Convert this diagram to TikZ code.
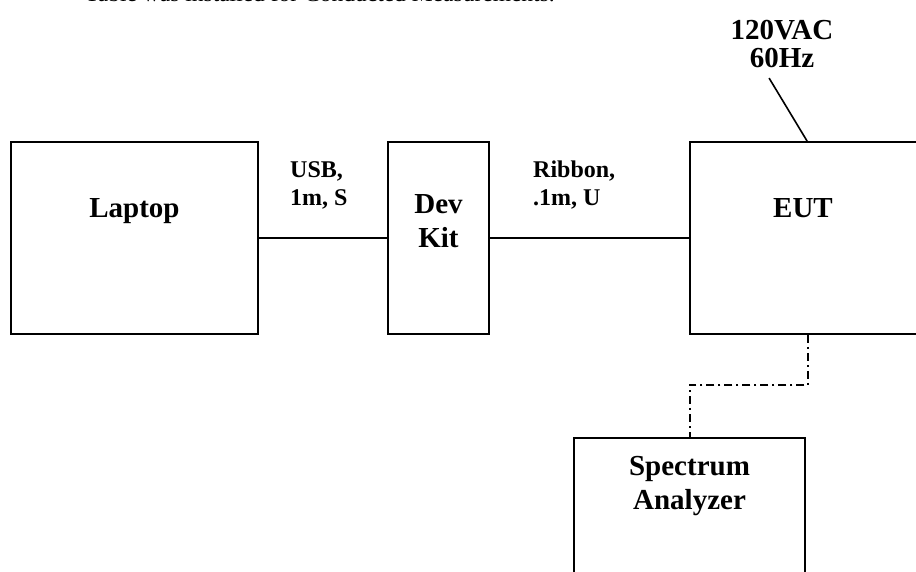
\documentclass[tikz,border=0pt]{standalone}
\usepackage{fontspec}
\setmainfont{Liberation Serif}
\usetikzlibrary{calc}
\begin{document}
\begin{tikzpicture}[
  x=1pt,y=-1pt,
  box/.style={draw,line width=1.8pt,inner sep=0pt},
  big/.style={font=\fontsize{29}{34}\selectfont\bfseries,inner sep=0pt,align=center},
  small/.style={font=\fontsize{24}{28}\selectfont\bfseries,inner sep=0pt,align=left},
  wire/.style={line width=1.6pt},
  sense/.style={line width=2pt,dash pattern=on 8pt off 4pt on 2pt off 4pt}
]
\clip (0,0) rectangle (916,572);
\node[anchor=base west,inner sep=0pt,font=\fontsize{23.5}{28}\selectfont] (note) at (85,1.5) {Table was installed for Conducted Measurements.};
\node[box,minimum width=247pt,minimum height=192pt] (laptop) at (134.5,238) {};
\node[box,minimum width=101pt,minimum height=192pt] (devkit) at (438.5,238) {};
\node[box,minimum width=228pt,minimum height=192pt] (eut) at (804,238) {};
\node[box,minimum width=231pt,minimum height=200pt] (sa) at (689.5,538) {};
\node[big,anchor=base] (laptoptxt) at (134.5,218) {Laptop};
\node[big,anchor=north] (devtxt) at (438.5,194) {Dev\\Kit};
\node[big,anchor=base] (euttxt) at (803,218) {EUT};
\node[big,anchor=north] (satxt) at (689.5,456) {Spectrum\\Analyzer};
\node[big,anchor=north,font=\fontsize{29}{28}\selectfont\bfseries] (power) at (782,20) {120VAC\\60Hz};
\node[small,anchor=north west] (usb) at (290,161) {USB,\\1m, S};
\node[small,anchor=north west] (ribbon) at (533,161) {Ribbon,\\.1m, U};
\draw[wire] (laptop.east) -- (devkit.west);
\draw[wire] (devkit.east) -- (eut.west);
\draw[wire] ($(eut.north west)+(118,0)$) -- ++(-38,-63);
\draw[sense] ($(eut.south west)+(119,0)$) |- ($(sa.north)+(0,-52)$) -- (sa.north);
\end{tikzpicture}
\end{document}
